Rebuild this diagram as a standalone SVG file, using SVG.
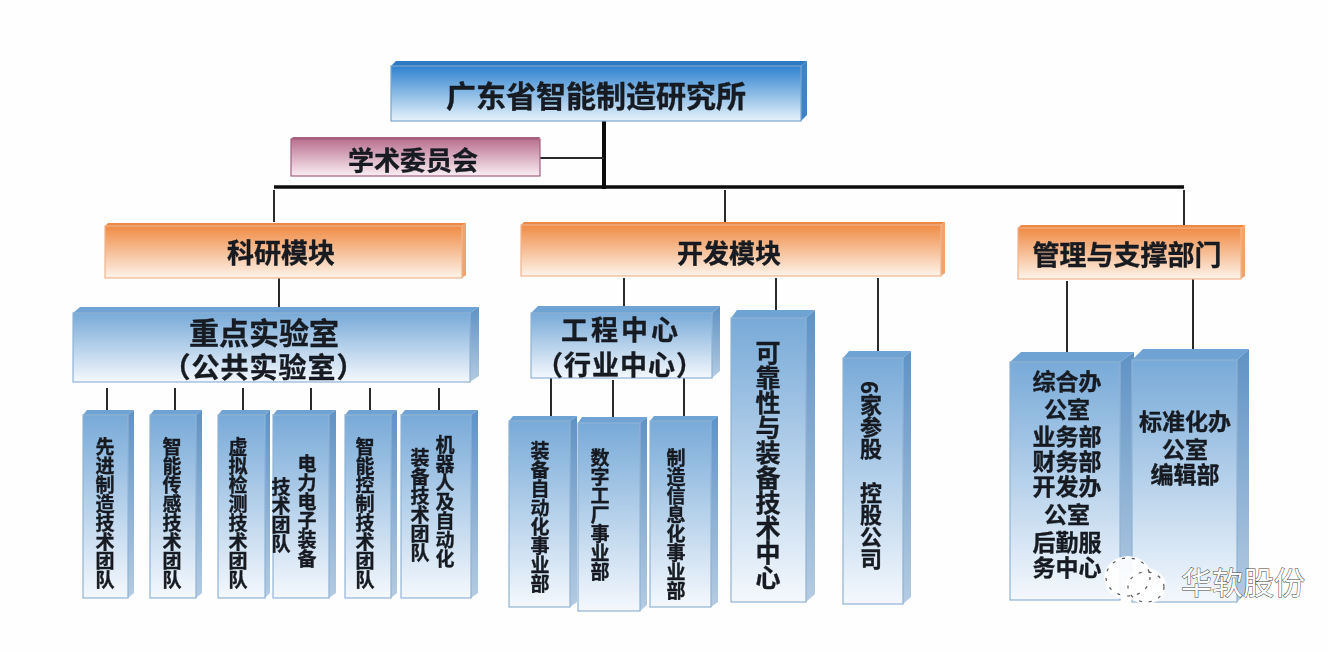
<svg xmlns="http://www.w3.org/2000/svg" width="1328" height="652" viewBox="0 0 1328 652">
<style>
text{font-family:"Noto Sans CJK SC","Noto Sans",sans-serif;font-weight:700;fill:#151a20;stroke:#151a20;stroke-width:.35;text-anchor:middle;dominant-baseline:central}
.v{writing-mode:vertical-rl;font-size:19px;filter:url(#soft)}
.h{filter:url(#soft)}
.f{fill:url(#blue);stroke:#8fb3d4;stroke-width:1.2}
.t{fill:#6fa3d3}
.s{fill:url(#side)}
.f0{fill:url(#deep);stroke:#7ba6cd;stroke-width:1.2}
.t0{fill:#2c79c4}
.s0{fill:#3d83c8}
.fm{fill:url(#mag);stroke:#a25f80;stroke-width:1.2}
.tm{fill:#a8607f}
.sm{fill:#b5708f}
.fo{fill:url(#org);stroke:#eeb48c;stroke-width:1.2}
.to{fill:#ec8a45}
.so{fill:#f2a36c}
.c{stroke:#2a2a2a;stroke-width:2;fill:none}
.m{stroke:#0c0c0c;stroke-width:4;fill:none}
.n{stroke:#0c0c0c;stroke-width:3.5;fill:none}
</style>
<defs>
<filter id="soft" x="-10%" y="-10%" width="120%" height="120%"><feGaussianBlur stdDeviation="0.45"/></filter>
<linearGradient id="blue" x1="0" y1="0" x2="0" y2="1"><stop offset="0" stop-color="#78aad8"/><stop offset="1" stop-color="#f4f8fd"/></linearGradient>
<linearGradient id="side" x1="0" y1="0" x2="0" y2="1"><stop offset="0" stop-color="#5f92c4"/><stop offset="1" stop-color="#b4cbe2"/></linearGradient>
<linearGradient id="deep" x1="0" y1="0" x2="0" y2="1"><stop offset="0" stop-color="#2f82d0"/><stop offset="1" stop-color="#e6f3fb"/></linearGradient>
<linearGradient id="mag" x1="0" y1="0" x2="0" y2="1"><stop offset="0" stop-color="#b9708f"/><stop offset="1" stop-color="#faeef3"/></linearGradient>
<linearGradient id="org" x1="0" y1="0" x2="0" y2="1"><stop offset="0" stop-color="#f08c45"/><stop offset="1" stop-color="#fdf3ea"/></linearGradient>
</defs>
<rect width="1328" height="652" fill="#fefefe"/>

<g id="connectors">
<path class="m" d="M604 121V189"/>
<path class="n" d="M274 187H1184"/>
<path class="c" d="M540 158H604"/>
<path class="c" d="M274 190V222M725 190V222M1184 190V225"/>
<path class="c" d="M279 278V307M624 278V306M776 278V310M878 278V352M1067 281V353M1193 279V349"/>
<path class="c" d="M107 388V410M175 388V410M243 388V410M311 388V410M370 388V410M439 388V410"/>
<path class="c" d="M551 378V416M613 380V417M684 378V416"/>
</g>

<g id="root"><path class="t0" d="M391 66L396 61H807L801 66Z"/><path class="s0" d="M801 66L807 61V115L801 121Z"/><rect class="f0" x="391" y="66" width="410" height="55"/><text class="h" x="596" y="94" font-size="30">广东省智能制造研究所</text></g>
<g id="academic"><path class="tm" d="M291 139L293 137H540L539 139Z"/><rect class="fm" x="291" y="139" width="249" height="37"/><text class="h" x="413" y="158" font-size="26">学术委员会</text></g>

<g id="research"><path class="to" d="M105 226L108 223H466L462 226Z"/><path class="so" d="M462 226L466 223V275L462 278Z"/><rect class="fo" x="105" y="226" width="357" height="52"/><text class="h" x="281" y="251" font-size="27">科研模块</text></g>
<g id="development"><path class="to" d="M521 225L524 222H945L941 225Z"/><path class="so" d="M941 225L945 222V273L941 276Z"/><rect class="fo" x="521" y="225" width="420" height="51"/><text class="h" x="729" y="251" font-size="26">开发模块</text></g>
<g id="management"><path class="to" d="M1018 228L1021 225H1245L1241 228Z"/><path class="so" d="M1241 228L1245 225V276L1241 279Z"/><rect class="fo" x="1018" y="228" width="223" height="51"/><text class="h" x="1127" y="253" font-size="27">管理与支撑部门</text></g>

<g id="key-lab"><path class="t" d="M73 313L80 307H479L470 313Z"/><path class="s" d="M470 313L479 307V376L470 382Z"/><rect class="f" x="73" y="313" width="397" height="69"/><text class="h" x="264" y="331" font-size="30">重点实验室</text><text class="h" x="264" y="366" font-size="28" letter-spacing="1">（公共实验室）</text></g>

<g id="team1"><path class="t" d="M83 415L87 410H134L128 415Z"/><path class="s" d="M128 415L134 410V593L128 598Z"/><rect class="f" x="83" y="415" width="45" height="183"/><text class="v" x="105" y="513">先进制造技术团队</text></g>
<g id="team2"><path class="t" d="M150 415L154 410H202L196 415Z"/><path class="s" d="M196 415L202 410V593L196 598Z"/><rect class="f" x="150" y="415" width="46" height="183"/><text class="v" x="172" y="513">智能传感技术团队</text></g>
<g id="team3"><path class="t" d="M218 415L222 410H270L265 415Z"/><path class="s" d="M265 415L270 410V593L265 598Z"/><rect class="f" x="218" y="415" width="47" height="183"/><text class="v" x="238" y="513">虚拟检测技术团队</text></g>
<g id="team4"><path class="t" d="M273 415L277 410H336L329 415Z"/><path class="s" d="M329 415L336 410V593L329 598Z"/><rect class="f" x="273" y="415" width="56" height="183"/><text class="v" x="307" y="511">电力电子装备</text><text class="v" x="281" y="515">技术团队</text></g>
<g id="team5"><path class="t" d="M345 415L349 410H397L391 415Z"/><path class="s" d="M391 415L397 410V593L391 598Z"/><rect class="f" x="345" y="415" width="46" height="183"/><text class="v" x="365" y="513">智能控制技术团队</text></g>
<g id="team6"><path class="t" d="M401 415L405 410H478L471 415Z"/><path class="s" d="M471 415L478 410V593L471 598Z"/><rect class="f" x="401" y="415" width="70" height="183"/><text class="v" x="445" y="502">机器人及自动化</text><text class="v" x="420" y="505">装备技术团队</text></g>

<g id="eng-center"><path class="t" d="M531 313L538 306H720L712 313Z"/><path class="s" d="M712 313L720 306V371L712 378Z"/><rect class="f" x="531" y="313" width="181" height="65"/><text class="h" x="621" y="328" font-size="27" letter-spacing="3">工程中心</text><text class="h" x="620" y="363" font-size="27" letter-spacing="1">（行业中心）</text></g>

<g id="dept1"><path class="t" d="M509 421L513 416H577L570 421Z"/><path class="s" d="M570 421L577 416V602L570 607Z"/><rect class="f" x="509" y="421" width="61" height="186"/><text class="v" x="540" y="517">装备自动化事业部</text></g>
<g id="dept2"><path class="t" d="M578 423L582 417H647L640 423Z"/><path class="s" d="M640 423L647 417V605L640 611Z"/><rect class="f" x="578" y="423" width="62" height="188"/><text class="v" x="600" y="515">数字工厂事业部</text></g>
<g id="dept3"><path class="t" d="M650 421L654 416H718L711 421Z"/><path class="s" d="M711 421L718 416V602L711 607Z"/><rect class="f" x="650" y="421" width="61" height="186"/><text class="v" x="676" y="524">制造信息化事业部</text></g>

<g id="reliability"><path class="t" d="M731 318L737 310H815L806 318Z"/><path class="s" d="M806 318L815 310V594L806 602Z"/><rect class="f" x="731" y="318" width="75" height="284"/><text class="v" x="768" y="465" style="font-size:25px">可靠性与装备技术中心</text></g>
<g id="holdings"><path class="t" d="M843 358L849 351H911L903 358Z"/><path class="s" d="M903 358L911 351V597L903 604Z"/><rect class="f" x="843" y="358" width="60" height="246"/><text class="v" x="871" y="381" style="font-size:22px;text-anchor:start">6家参股　控股公司</text></g>

<g id="office1"><path class="t" d="M1010 362L1021 352H1134L1120 362Z"/><path class="s" d="M1120 362L1134 352V590L1120 600Z"/><rect class="f" x="1010" y="362" width="110" height="238"/><text class="h" font-size="23"><tspan x="1067" y="380">综合办</tspan><tspan x="1067" y="408">公室</tspan><tspan x="1067" y="435">业务部</tspan><tspan x="1067" y="460">财务部</tspan><tspan x="1067" y="485">开发办</tspan><tspan x="1067" y="513">公室</tspan><tspan x="1067" y="541">后勤服</tspan><tspan x="1067" y="566">务中心</tspan></text></g>
<g id="office2"><path class="t" d="M1132 360L1143 349H1249L1237 360Z"/><path class="s" d="M1237 360L1249 349V591L1237 602Z"/><rect class="f" x="1132" y="360" width="105" height="242"/><text class="h" font-size="23"><tspan x="1185" y="420">标准化办</tspan><tspan x="1185" y="448">公室</tspan><tspan x="1185" y="473">编辑部</tspan></text></g>

<g id="watermark">
<ellipse cx="1128" cy="578" rx="24" ry="22" fill="#ffffff" opacity=".92"/>
<ellipse cx="1146" cy="586" rx="20" ry="18" fill="#ffffff" opacity=".92"/>
<ellipse cx="1128" cy="577" rx="22" ry="19" fill="none" stroke="#555" stroke-width="1.2" stroke-dasharray="3 7"/>
<ellipse cx="1146" cy="587" rx="18" ry="15" fill="none" stroke="#555" stroke-width="1.2" stroke-dasharray="3 7"/>
<text x="1243" y="580" font-size="31" style="font-weight:400;fill:#ffffff;stroke:#444;stroke-width:1;paint-order:stroke">华软股份</text>
</g>
</svg>
